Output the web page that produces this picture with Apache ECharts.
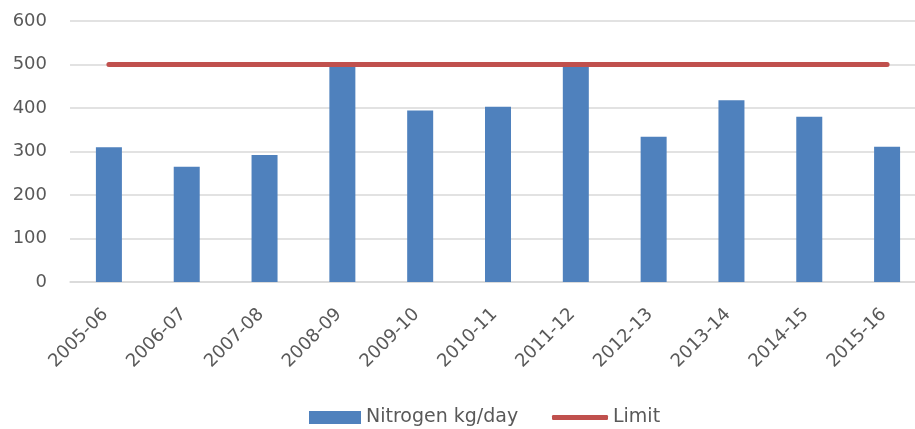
<!DOCTYPE html>
<html>
<head>
<meta charset="utf-8">
<script src="https://cdn.jsdelivr.net/npm/echarts@6/dist/echarts.min.js"></script>
<style>
  html, body { margin: 0; padding: 0; background: #fff; }
  #chart { width: 915px; height: 429px; }
</style>
</head>
<body>
<div id="chart"></div>
<script>
// Seasons on the category axis
const seasons = ['2005-06', '2006-07', '2007-08', '2008-09', '2009-10', '2010-11',
                 '2011-12', '2012-13', '2013-14', '2014-15', '2015-16'];
// Nitrogen load, kg/day
const nitrogen = [310, 265, 292, 500, 394, 403, 500, 334, 418, 380, 311];
// Regulatory limit, kg/day
const limit = [500, 500, 500, 500, 500, 500, 500, 500, 500, 500, 500];
// Value axis ticks
const yTicks = [0, 100, 200, 300, 400, 500, 600];

const textColor = '#595959';
const gridColor = '#D9D9D9';
const barColor = '#4F81BD';
const limitColor = '#C0504D';
const font = 'DejaVu Sans';

const legendText = { fontFamily: font, fontSize: 19, color: textColor };

const chart = echarts.init(document.getElementById('chart'), null, { renderer: 'canvas' });
chart.setOption({
  animation: false,
  backgroundColor: '#ffffff',
  textStyle: { fontFamily: font, color: textColor },
  // plot area runs slightly past the right edge of the canvas
  grid: {
    left: 70, width: 856, top: 21, bottom: 147,
    containLabel: false,
    outerBoundsMode: 'none'
  },
  legend: [
    {
      left: 304,
      top: 403,
      itemWidth: 52,
      itemHeight: 13,
      textStyle: legendText,
      data: [{ name: 'Nitrogen kg/day', icon: 'rect' }]
    },
    {
      left: 547,
      top: 403,
      itemWidth: 56,
      itemHeight: 5,
      textStyle: legendText,
      data: [{ name: 'Limit', icon: 'roundRect', itemStyle: { color: limitColor } }]
    }
  ],
  xAxis: {
    type: 'category',
    data: seasons,
    boundaryGap: true,
    axisLine: { show: true, lineStyle: { color: gridColor, width: 1.5 } },
    axisTick: { show: false },
    axisLabel: {
      rotate: 45,
      margin: 26,
      padding: [0, 5, 0, 0],
      fontSize: 18,
      fontFamily: font,
      color: textColor,
      interval: 0
    }
  },
  yAxis: {
    type: 'value',
    min: yTicks[0],
    max: yTicks[yTicks.length - 1],
    interval: yTicks[1] - yTicks[0],
    axisLine: { show: false },
    axisTick: { show: false },
    splitLine: { show: true, lineStyle: { color: gridColor, width: 1.5 } },
    axisLabel: {
      margin: 23,
      fontSize: 18,
      fontFamily: font,
      color: textColor
    }
  },
  series: [
    {
      name: 'Nitrogen kg/day',
      type: 'bar',
      data: nitrogen,
      barWidth: 26,
      itemStyle: { color: barColor },
      z: 2
    },
    {
      name: 'Limit',
      type: 'line',
      data: limit,
      symbol: 'none',
      showSymbol: false,
      lineStyle: { color: limitColor, width: 5, cap: 'round' },
      itemStyle: { color: limitColor },
      z: 3
    }
  ]
});
</script>
</body>
</html>
